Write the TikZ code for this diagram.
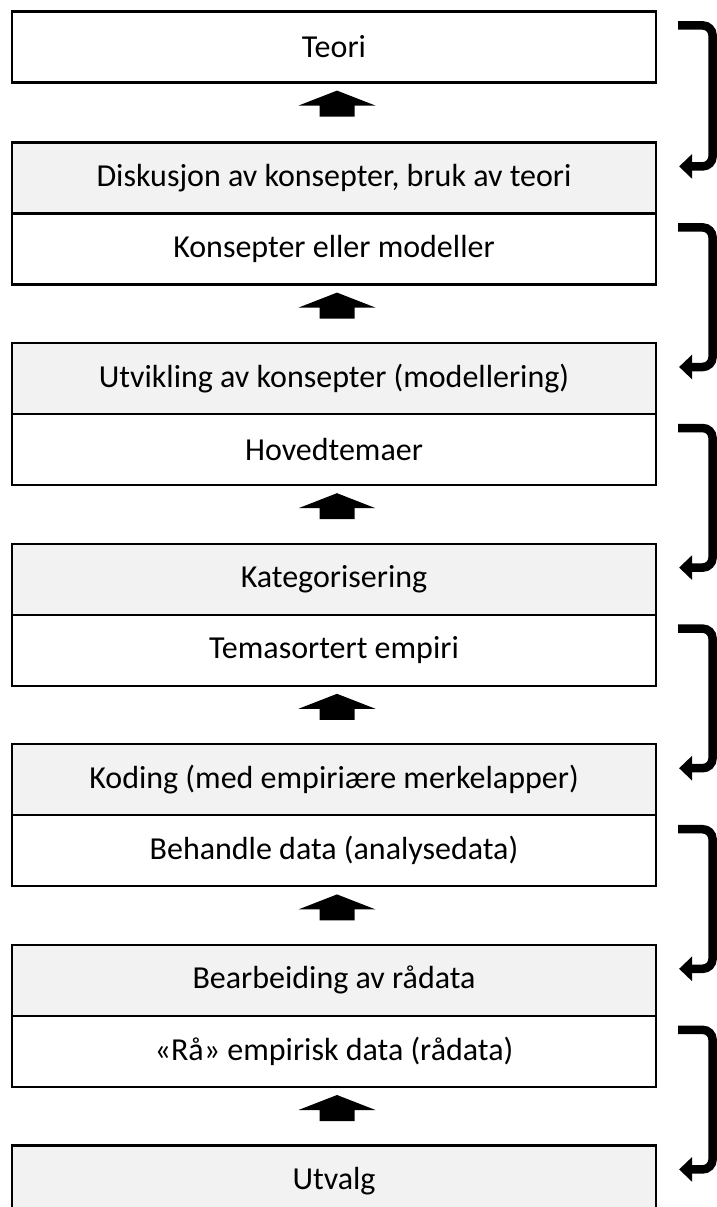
\documentclass[tikz,border=0pt]{standalone}
\usepackage{fontspec}
\setmainfont{Carlito}
\usetikzlibrary{calc,arrows.meta}
\tikzset{
  stage/.style={draw=black, line width=2.2pt, minimum width=644pt, minimum height=71pt,
    inner sep=0pt, font=\fontsize{32}{38}\selectfont},
  plain/.style={stage, fill=white},
  shaded/.style={stage, fill=black!5},
  bracket/.style={line width=8.5pt, rounded corners=10pt, -{Triangle[length=13pt,width=24pt]}},
  blockup/.pic={\fill[black] (0,0) -- (38.5,15) -- (17.5,15) -- (17.5,26) -- (-17.5,26) -- (-17.5,15) -- (-38.5,15) -- cycle;}
}
\begin{document}
\begin{tikzpicture}[x=1pt,y=-1pt]
\useasboundingbox (0,0) rectangle (717,1207);
\clip (0,0) rectangle (717,1207);
\fill[white] (0,0) rectangle (717,1207);

% stages, top to bottom
\node[plain]  (teori) at (334,47)     {Teori};
\node[shaded] (disk)  at (334,178)    {Diskusjon av konsepter, bruk av teori};
\node[plain]  (kons)  at (334,249)    {Konsepter eller modeller};
\node[shaded] (utv)   at (334,378.6)  {Utvikling av konsepter (modellering)};
\node[plain]  (hoved) at (334,449.6)  {Hovedtemaer};
\node[shaded] (kat)   at (334,579.2)  {Kategorisering};
\node[plain]  (tema)  at (334,650.2)  {Temasortert empiri};
\node[shaded] (kod)   at (334,779.8)  {Koding (med empiriære merkelapper)};
\node[plain]  (beh)   at (334,850.8)  {Behandle data (analysedata)};
\node[shaded] (bearb) at (334,980.4)  {Bearbeiding av rådata};
\node[plain]  (raa)   at (334,1051.4) {«Rå» empirisk data (rådata)};
\node[shaded] (utval) at (334,1181)   {Utvalg};

% upward block arrows between the groups
\foreach \lower in {teori,kons,hoved,tema,beh,raa}
  \pic at ($(\lower.south)+(3,7)$) {blockup};

% brackets on the right side
\foreach \from/\to in {teori/disk, kons/utv, hoved/kat, tema/kod, beh/bearb, raa/utval}
  \draw[bracket] ($(\from.north east)+(21,15)$) -- ++(34.5,0) |- ($(\to.north east)+(22,25)$);
\end{tikzpicture}
\end{document}
